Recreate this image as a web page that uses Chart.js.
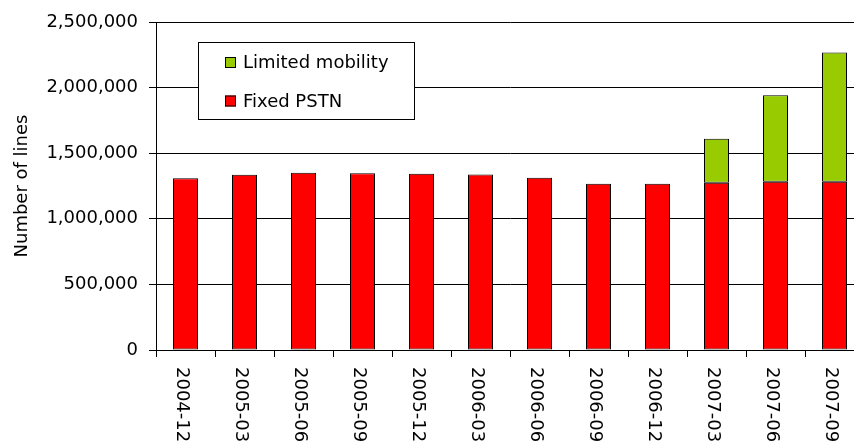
<!DOCTYPE html>
<html>
<head>
<meta charset="utf-8">
<script src="https://cdn.jsdelivr.net/npm/chart.js@4/dist/chart.umd.min.js"></script>
<style>
  html, body { margin: 0; padding: 0; background: #fff; overflow: hidden; }
  #wrap { position: relative; width: 864px; height: 443px; }
</style>
</head>
<body>
<div id="wrap"><canvas id="lines-chart"></canvas></div>
<script>
// Lines per quarter
const PERIODS = ['2004-12','2005-03','2005-06','2005-09','2005-12','2006-03',
                 '2006-06','2006-09','2006-12','2007-03','2007-06','2007-09'];
const FIXED_PSTN = [1310000, 1336000, 1351000, 1348000, 1344000, 1338000,
                    1313000, 1267000, 1267000, 1275000, 1282000, 1282000];
const LIMITED_MOBILITY = [null, null, null, null, null, null,
                          null, null, null, 336000, 659000, 985000];
const Y_MIN = 0, Y_MAX = 2500000, Y_STEP = 500000;

const FONT = 'DejaVu Sans';
Chart.defaults.font.family = FONT;
Chart.defaults.color = '#000';

// rotated category labels, reading top to bottom
const xLabels = {
  id: 'xLabels',
  afterDraw(chart) {
    const x = chart.scales.x, ctx = chart.ctx;
    ctx.save();
    ctx.font = '18px "' + FONT + '"';
    ctx.fillStyle = '#000';
    ctx.textAlign = 'left';
    ctx.textBaseline = 'middle';
    PERIODS.forEach((p, i) => {
      ctx.save();
      ctx.translate(x.getPixelForTick(i) - 4, 367);
      ctx.rotate(Math.PI / 2);
      ctx.fillText(p, 0, 0);
      ctx.restore();
    });
    ctx.restore();
  }
};

// boxed legend inside the plot, top-left
const boxLegend = {
  id: 'boxLegend',
  afterDraw(chart) {
    const ctx = chart.ctx;
    ctx.save();
    ctx.fillStyle = '#fff';
    ctx.fillRect(198, 42, 216, 77);
    ctx.strokeStyle = '#000';
    ctx.lineWidth = 1;
    ctx.strokeRect(198.5, 42.5, 216, 77);
    ctx.font = '18px "' + FONT + '"';
    ctx.textBaseline = 'middle';
    const items = chart.data.datasets.slice().reverse();
    const rows = [62.5, 101];
    items.forEach((ds, i) => {
      const y = rows[i];
      ctx.fillStyle = ds.backgroundColor;
      ctx.fillRect(225, y - 5.5, 11, 11);
      ctx.strokeStyle = '#000';
      ctx.strokeRect(225.5, y - 5, 10, 10);
      ctx.fillStyle = '#000';
      ctx.fillText(ds.label, 243, y + 1);
    });
    ctx.restore();
  }
};

const barStyle = {
  borderColor: '#000',
  borderWidth: 1,
  borderSkipped: false,
  inflateAmount: 0,
  barPercentage: 25 / 59,
  categoryPercentage: 1
};

new Chart(document.getElementById('lines-chart').getContext('2d'), {
  type: 'bar',
  data: {
    labels: PERIODS,
    datasets: [
      Object.assign({ label: 'Fixed PSTN', data: FIXED_PSTN, backgroundColor: '#FF0000' }, barStyle),
      Object.assign({ label: 'Limited mobility', data: LIMITED_MOBILITY, backgroundColor: '#99CC00' }, barStyle)
    ]
  },
  options: {
    responsive: true,
    maintainAspectRatio: false,
    animation: false,
    layout: { padding: { top: 22, right: 0, bottom: 0, left: 0 } },
    plugins: { legend: { display: false }, tooltip: { enabled: false } },
    scales: {
      x: {
        stacked: true,
        ticks: { display: false },
        grid: { display: true, drawOnChartArea: false, drawTicks: true, tickLength: 7, color: '#000', offset: true },
        border: { display: true, color: '#000', width: 1 },
        afterFit: s => { s.height = 93; }
      },
      y: {
        stacked: true,
        min: Y_MIN,
        max: Y_MAX,
        ticks: {
          stepSize: Y_STEP,
          padding: 11,
          font: { size: 18 },
          color: '#000',
          callback: v => v.toLocaleString('en-US')
        },
        grid: { color: '#000', lineWidth: 1, tickLength: 7 },
        border: { display: true, color: '#000', width: 1 },
        title: {
          display: true,
          text: 'Number of lines',
          font: { size: 18 },
          color: '#000',
          padding: { top: 12, bottom: 0 }
        },
        afterFit: s => { s.width = 156; }
      }
    }
  },
  plugins: [xLabels, boxLegend]
});
</script>
</body>
</html>
